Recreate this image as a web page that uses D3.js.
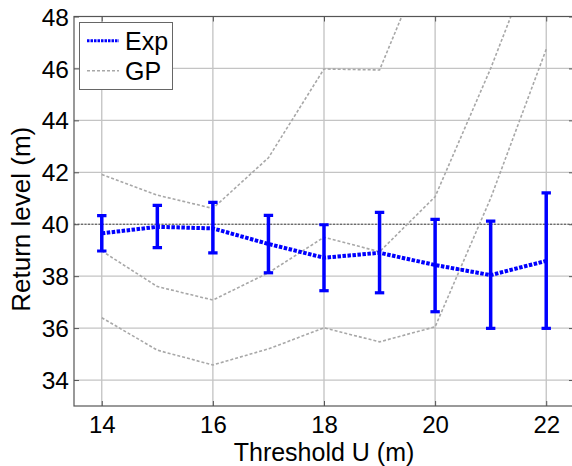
<!DOCTYPE html>
<html>
<head>
<meta charset="utf-8">
<script src="https://cdn.jsdelivr.net/npm/d3@7"></script>
<style>
  html, body { margin: 0; padding: 0; background: #fff; }
  svg { display: block; }
  text { font-family: "Liberation Sans", Arial, sans-serif; fill: #000; }
</style>
</head>
<body>
<svg id="chart" width="572" height="466"></svg>
<script>
// ---- Data ----
const thresholds = [14, 15, 16, 17, 18, 19, 20, 21, 22];
const expMean  = [39.65, 39.90, 39.84, 39.24, 38.71, 38.90, 38.43, 38.04, 38.59];
const expLower = [38.97, 39.10, 38.90, 38.13, 37.44, 37.36, 36.63, 35.99, 35.99];
const expUpper = [40.33, 40.73, 40.84, 40.34, 39.98, 40.46, 40.19, 40.12, 41.21];
const gpUpper  = [41.92, 41.12, 40.61, 42.56, 45.98, 45.94, 51.1, 56.0, 61.0];
const gpMiddle = [38.97, 37.60, 37.08, 38.13, 39.50, 38.94, 41.06, 46.0, 51.5];
const gpLower  = [36.40, 35.15, 34.58, 35.20, 36.01, 35.47, 36.05, 41.0, 46.74];
const referenceLevel = 40;
const xTicks = [14, 16, 18, 20, 22];
const yTicks = [34, 36, 38, 40, 42, 44, 46, 48];
const xLabel = "Threshold U (m)";
const yLabel = "Return level (m)";
const legendLabels = ["Exp", "GP"];

(function () {
// ---- Layout ----
const svg = d3.select("#chart");
const pL = 74, pR = 574, pT = 16.5, pB = 406;
const x = d3.scaleLinear().domain([13.5, 22.5]).range([pL, pR]);
const y = d3.scaleLinear().domain([33, 48]).range([pB, pT]);

svg.append("defs").append("clipPath").attr("id", "plotclip")
  .append("rect").attr("x", pL).attr("y", pT)
  .attr("width", pR - pL).attr("height", pB - pT);

// grid
const grid = svg.append("g");
grid.selectAll("line.vg").data(xTicks).enter().append("line")
  .attr("x1", d => x(d)).attr("x2", d => x(d))
  .attr("y1", pT).attr("y2", pB)
  .attr("stroke", "#bdbdbd").attr("stroke-width", 1.2);
grid.selectAll("line.hg").data(yTicks).enter().append("line")
  .attr("x1", pL).attr("x2", pR)
  .attr("y1", d => y(d)).attr("y2", d => y(d))
  .attr("stroke", "#c4c4c4").attr("stroke-width", 1.2);

// reference line at 40
svg.append("line")
  .attr("x1", pL).attr("x2", pR)
  .attr("y1", y(referenceLevel)).attr("y2", y(referenceLevel))
  .attr("stroke", "#444").attr("stroke-width", 1)
  .attr("stroke-dasharray", "2,1.5");

// GP lines
const plot = svg.append("g").attr("clip-path", "url(#plotclip)");
const lineGen = d3.line().x(d => x(d[0])).y(d => y(d[1]));
[gpUpper, gpMiddle, gpLower].forEach(series => {
  plot.append("path")
    .datum(thresholds.map((t, i) => [t, series[i]]))
    .attr("d", lineGen)
    .attr("fill", "none")
    .attr("stroke", "#a8a8a8")
    .attr("stroke-width", 1.6)
    .attr("stroke-dasharray", "3,2");
});

// Exp line
plot.append("path")
  .datum(thresholds.map((t, i) => [t, expMean[i]]))
  .attr("d", lineGen)
  .attr("fill", "none")
  .attr("stroke", "#0000ff")
  .attr("stroke-width", 4)
  .attr("stroke-dasharray", "3.5,1.5");

// error bars
const eb = plot.append("g");
const capW = 4.7;
thresholds.forEach((t, i) => {
  eb.append("line")
    .attr("x1", x(t)).attr("x2", x(t))
    .attr("y1", y(expLower[i])).attr("y2", y(expUpper[i]))
    .attr("stroke", "#0000ff").attr("stroke-width", 3.5);
  [expLower[i], expUpper[i]].forEach(v => {
    eb.append("line")
      .attr("x1", x(t) - capW).attr("x2", x(t) + capW)
      .attr("y1", y(v)).attr("y2", y(v))
      .attr("stroke", "#0000ff").attr("stroke-width", 3.2);
  });
});

// axes frame
svg.append("rect")
  .attr("x", pL).attr("y", pT)
  .attr("width", pR - pL).attr("height", pB - pT)
  .attr("fill", "none").attr("stroke", "#555").attr("stroke-width", 1.2);

// ticks (inward) using d3 axes
const xAxisB = svg.append("g").attr("transform", `translate(0,${pB})`)
  .call(d3.axisBottom(x).tickValues(xTicks).tickSize(-5).tickFormat(d3.format("d")));
const xAxisT = svg.append("g").attr("transform", `translate(0,${pT})`)
  .call(d3.axisTop(x).tickValues(xTicks).tickSize(-5).tickFormat(""));
const yAxisL = svg.append("g").attr("transform", `translate(${pL},0)`)
  .call(d3.axisLeft(y).tickValues(yTicks).tickSize(-5).tickFormat(d3.format("d")));
const yAxisR = svg.append("g").attr("transform", `translate(${pR},0)`)
  .call(d3.axisRight(y).tickValues(yTicks).tickSize(-5).tickFormat(""));
[xAxisB, xAxisT, yAxisL, yAxisR].forEach(g => {
  g.select(".domain").remove();
  g.selectAll(".tick line").attr("stroke", "#555").attr("stroke-width", 1);
  g.selectAll("text").attr("font-size", 24.5)
    .attr("font-family", "Liberation Sans, Arial, sans-serif").attr("fill", "#000");
});
yAxisL.selectAll("text").attr("x", -5).attr("dy", "0.35em");
xAxisB.selectAll("text").attr("font-size", 24).attr("y", 27).attr("dy", null);

// axis labels
svg.append("text")
  .attr("x", (pL + pR) / 2).attr("y", 461)
  .attr("text-anchor", "middle").attr("font-size", 25)
  .text(xLabel);
svg.append("text")
  .attr("transform", `translate(30,${(pT + pB) / 2 + 8}) rotate(-90)`)
  .attr("text-anchor", "middle").attr("font-size", 26)
  .text(yLabel);

// legend
const lg = svg.append("g");
lg.append("rect")
  .attr("x", 79.5).attr("y", 22.5).attr("width", 93).attr("height", 67)
  .attr("fill", "#fff").attr("stroke", "#666").attr("stroke-width", 1);
lg.append("line").attr("x1", 87).attr("x2", 119).attr("y1", 40.7).attr("y2", 40.7)
  .attr("stroke", "#0000ff").attr("stroke-width", 3).attr("stroke-dasharray", "2.5,1");
lg.append("line").attr("x1", 87).attr("x2", 119).attr("y1", 70.7).attr("y2", 70.7)
  .attr("stroke", "#a8a8a8").attr("stroke-width", 1.6).attr("stroke-dasharray", "3,2");
lg.append("text").attr("x", 125).attr("y", 49.5).attr("font-size", 25).text(legendLabels[0]);
lg.append("text").attr("x", 125).attr("y", 79.5).attr("font-size", 25).text(legendLabels[1]);
})();
</script>
</body>
</html>
